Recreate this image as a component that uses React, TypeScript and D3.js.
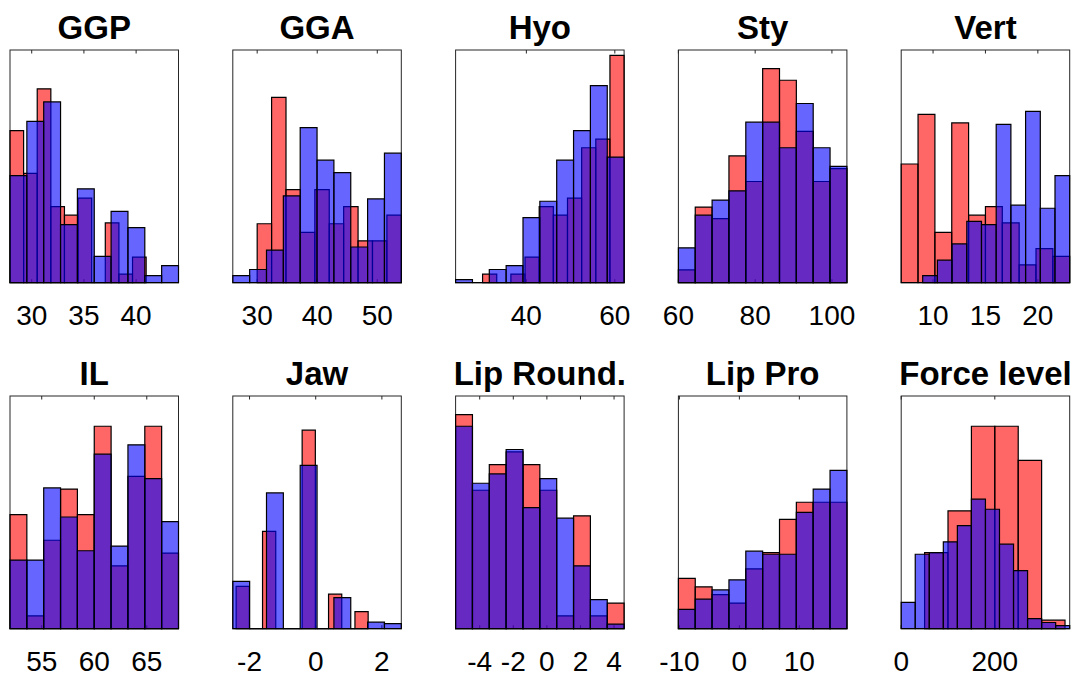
import React from 'react';
import * as d3 from 'd3';

// ---- data (probabilities per bin) ----
const titles = ['GGP', 'GGA', 'Hyo', 'Sty', 'Vert', 'IL', 'Jaw', 'Lip Round.', 'Lip Pro', 'Force level'];

const redValues: number[][] = [
  [0.196, 0.141, 0.250, 0.098, 0.087, 0.109, 0.0, 0.077, 0.011, 0.033],
  [0.076, 0.239, 0.120, 0.065, 0.120, 0.076, 0.098, 0.054, 0.054, 0.087],
  [0.011, 0.0, 0.011, 0.033, 0.098, 0.087, 0.109, 0.174, 0.185, 0.293],
  [0.011, 0.065, 0.055, 0.109, 0.087, 0.184, 0.174, 0.130, 0.087, 0.098],
  [0.153, 0.217, 0.065, 0.206, 0.087, 0.098, 0.077, 0.023, 0.044, 0.034],
  [0.098, 0.011, 0.076, 0.120, 0.098, 0.174, 0.054, 0.131, 0.174, 0.065],
  [0.109, 0.0, 0.251, 0.0, 0.0, 0.512, 0.0, 0.089, 0.0, 0.044],
  [0.184, 0.119, 0.141, 0.152, 0.141, 0.119, 0.011, 0.097, 0.011, 0.022],
  [0.065, 0.054, 0.044, 0.033, 0.077, 0.098, 0.141, 0.163, 0.163, 0.163],
  [0.098, 0.152, 0.261, 0.261, 0.217, 0.011],
];

const blueValues: number[][] = [
  [0.138, 0.208, 0.233, 0.075, 0.121, 0.034, 0.092, 0.071, 0.009, 0.022],
  [0.009, 0.017, 0.042, 0.112, 0.200, 0.158, 0.142, 0.046, 0.108, 0.167],
  [0.004, 0.0, 0.017, 0.022, 0.084, 0.105, 0.158, 0.196, 0.254, 0.162],
  [0.030, 0.058, 0.071, 0.079, 0.138, 0.138, 0.116, 0.154, 0.116, 0.100],
  [0.009, 0.029, 0.050, 0.079, 0.075, 0.204, 0.100, 0.221, 0.096, 0.138],
  [0.059, 0.059, 0.121, 0.096, 0.067, 0.150, 0.071, 0.158, 0.129, 0.092],
  [0.122, 0.0, 0.350, 0.0, 0.421, 0.0, 0.080, 0.0, 0.017, 0.013],
  [0.174, 0.125, 0.133, 0.154, 0.104, 0.129, 0.095, 0.054, 0.025, 0.004],
  [0.025, 0.038, 0.050, 0.063, 0.100, 0.096, 0.096, 0.150, 0.180, 0.204],
  [0.034, 0.096, 0.098, 0.112, 0.133, 0.167, 0.154, 0.109, 0.075, 0.013, 0.008, 0.004],
];

// first and last bin edge of each series
const redRange: [number, number][] = [
  [27.92, 40.96], [30.0, 54.0], [30.1, 62.1], [60.0, 103.9], [6.96, 23.04],
  [51.98, 68.02], [-2.405, 1.585], [-5.436, 4.598], [-10.17, 17.93], [50, 350],
];
const blueRange: [number, number][] = [
  [27.92, 44.06], [25.94, 54.0], [24.0, 62.1], [60.0, 103.9], [9.01, 23.04],
  [51.98, 68.02], [-2.506, 2.587], [-5.436, 4.598], [-10.17, 17.93], [0, 360],
];

const yMax = [0.3, 0.3, 0.3, 0.2, 0.3, 0.2, 0.6, 0.2, 0.3, 0.3];

const tickValues: number[][] = [
  [30, 35, 40], [30, 40, 50], [40, 60], [60, 80, 100], [10, 15, 20],
  [55, 60, 65], [-2, 0, 2], [-4, -2, 0, 2, 4], [-10, 0, 10], [0, 200],
];

// ---- layout ----
const W = 1078;
const H = 676;
const plotW = 168.5;
const plotH = 232.7;
const colStep = 222.8;
const firstLeft = 10;
const rowTops = [50, 396];
const FONT = '"Liberation Sans", Arial, Helvetica, sans-serif';

function barsPath(values: number[], range: [number, number], x: d3.ScaleLinear<number, number>, y: d3.ScaleLinear<number, number>) {
  const n = values.length;
  const step = (range[1] - range[0]) / n;
  return values.map((v, i) => {
    const x0 = x(range[0] + i * step);
    const x1 = x(range[0] + (i + 1) * step);
    const y0 = y(0);
    const y1 = y(v);
    const p = d3.path();
    p.moveTo(x0, y0);
    p.lineTo(x0, y1);
    p.lineTo(x1, y1);
    p.lineTo(x1, y0);
    p.closePath();
    return p.toString();
  });
}

function Panel({ idx }: { idx: number }) {
  const row = Math.floor(idx / 5);
  const col = idx % 5;
  const left = firstLeft + col * colStep;
  const top = rowTops[row];
  const xDomain: [number, number] = [
    Math.min(redRange[idx][0], blueRange[idx][0]),
    Math.max(redRange[idx][1], blueRange[idx][1]),
  ];
  const x = d3.scaleLinear().domain(xDomain).range([left, left + plotW]);
  const y = d3.scaleLinear().domain([0, yMax[idx]]).range([top + plotH, top]);
  const redPaths = barsPath(redValues[idx], redRange[idx], x, y);
  const bluePaths = barsPath(blueValues[idx], blueRange[idx], x, y);
  const bottom = top + plotH;
  const axisColor = '#262626';
  return (
    <g>
      <text
        x={left + plotW / 2}
        y={top - 11}
        textAnchor="middle"
        fontFamily={FONT}
        fontWeight="bold"
        fontSize={33}
        fill="#000"
      >
        {titles[idx]}
      </text>
      {/* box */}
      <rect x={left} y={top} width={plotW} height={plotH} fill="#fff" stroke={axisColor} strokeWidth={1} />
      {tickValues[idx].map((t) => (
        <g key={t}>
          <line x1={x(t)} x2={x(t)} y1={top} y2={top + 3.5} stroke={axisColor} strokeWidth={1} />
          <line x1={x(t)} x2={x(t)} y1={bottom} y2={bottom - 3.5} stroke={axisColor} strokeWidth={1} />
        </g>
      ))}
      {redPaths.map((d, i) => (
        <path key={'r' + i} d={d} fill="#ff0000" fillOpacity={0.6} stroke="#000" strokeWidth={1.2} />
      ))}
      {bluePaths.map((d, i) => (
        <path key={'b' + i} d={d} fill="#0000ff" fillOpacity={0.6} stroke="#000" strokeWidth={1.2} />
      ))}
      {tickValues[idx].map((t) => (
        <text
          key={'l' + t}
          x={x(t)}
          y={bottom + 42.5}
          textAnchor="middle"
          fontFamily={FONT}
          fontSize={28}
          fill="#000"
        >
          {String(t)}
        </text>
      ))}
    </g>
  );
}

export default function App() {
  return (
    <div style={{ position: 'fixed', left: 0, top: 0, width: W, height: H, background: '#fff' }}>
      <svg width={W} height={H} viewBox={`0 0 ${W} ${H}`} style={{ display: 'block' }}>
        <rect x={0} y={0} width={W} height={H} fill="#fff" />
        {titles.map((_, i) => (
          <Panel key={i} idx={i} />
        ))}
      </svg>
    </div>
  );
}
